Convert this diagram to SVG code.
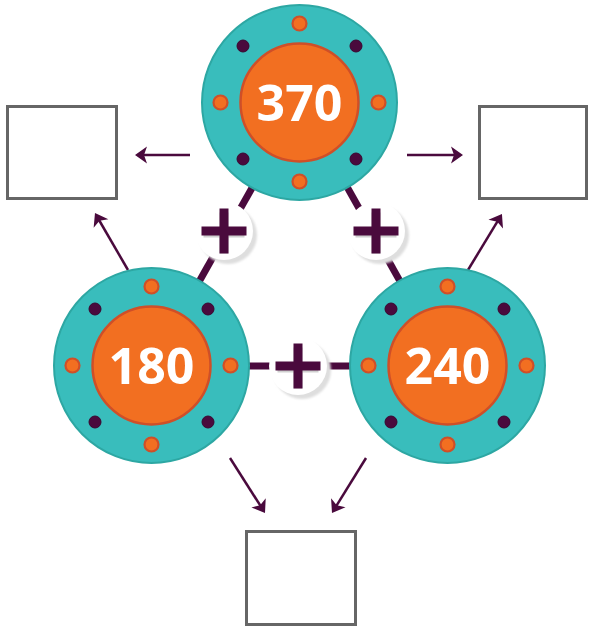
<svg xmlns="http://www.w3.org/2000/svg" width="589" height="628" viewBox="0 0 589 628">
<defs>
<style>
.ring{fill:#39bdbc;stroke:#2da7a3;stroke-width:2}
.core{fill:#f26f21;stroke:#cf4f28;stroke-width:2.5}
.od{fill:#f26f21;stroke:#cf4f28;stroke-width:2.2}
.pd{fill:#4a0a3d;stroke:#3a0630;stroke-width:1}
.num{font-family:"Open Sans","Noto Sans",sans-serif;font-weight:700;font-size:50px;fill:#fff;text-anchor:middle}
.box{fill:#fff;stroke:#666;stroke-width:3}
.link{stroke:#4a0a3d;stroke-width:7;fill:none}
.arr{stroke:#4a0a3d;stroke-width:2.5;fill:none;marker-end:url(#ah)}
.plus{fill:#4a0a3d}
.plush{fill:#cfcfcf}
</style>
<marker id="ah" markerUnits="userSpaceOnUse" viewBox="-6 -10 16 20" refX="0" refY="0" markerWidth="16" markerHeight="20" orient="auto">
<path d="M8,0 L-4,-8.5 L-1,0 L-4,8.5 Z" fill="#4a0a3d"/>
</marker>
<filter id="blur" x="-50%" y="-50%" width="200%" height="200%"><feGaussianBlur stdDeviation="1.2"/></filter>
<g id="disc">
<circle class="ring" cx="0" cy="0" r="97.5"/>
<circle class="core" cx="0" cy="0" r="59"/>
<circle class="od" cx="0" cy="-79" r="7"/>
<circle class="od" cx="0" cy="79" r="7"/>
<circle class="od" cx="-79" cy="0" r="7"/>
<circle class="od" cx="79" cy="0" r="7"/>
<circle class="pd" cx="-56.5" cy="-56.5" r="6"/>
<circle class="pd" cx="56.5" cy="-56.5" r="6"/>
<circle class="pd" cx="-56.5" cy="56.5" r="6"/>
<circle class="pd" cx="56.5" cy="56.5" r="6"/>
</g>
<g id="plusbadge">
<circle cx="4" cy="4" r="29" fill="#dedede" filter="url(#blur)"/>
<circle cx="0" cy="0" r="29" fill="#fff"/>
<path class="plush" d="M-20.5,-2.5h16v-16h9v16h16v9h-16v16h-9v-16h-16z"/>
<path class="plus" d="M-22.5,-4.5h18v-18h9v18h18v9h-18v18h-9v-18h-18z"/>
</g>
</defs>
<g id="connectors">
<line class="link" x1="300" y1="103" x2="152" y2="365"/>
<line class="link" x1="300" y1="103" x2="447" y2="365"/>
<line class="link" x1="152" y1="366" x2="447" y2="366"/>
<line class="arr" x1="190" y1="155" x2="143" y2="155"/>
<line class="arr" x1="407" y1="155" x2="455" y2="155"/>
<line class="arr" x1="128" y1="270" x2="99" y2="220"/>
<line class="arr" x1="468" y1="270" x2="497.8" y2="220.8"/>
<line class="arr" x1="230" y1="458" x2="260.7" y2="506.2"/>
<line class="arr" x1="366" y1="458" x2="336.2" y2="506.2"/>
<use href="#plusbadge" x="224" y="231"/>
<use href="#plusbadge" x="376" y="231"/>
<use href="#plusbadge" x="298" y="366"/>
</g>
<g id="node-370">
<use href="#disc" x="299.5" y="102.5"/>
<text class="num" x="299.5" y="121">370</text>
</g>
<g id="node-180">
<use href="#disc" x="151.5" y="365.5"/>
<text class="num" x="151.5" y="384">180</text>
</g>
<g id="node-240">
<use href="#disc" x="447.5" y="365.5"/>
<text class="num" x="447.5" y="384">240</text>
</g>
<g id="box-left"><rect class="box" x="7.5" y="106.5" width="109" height="92"/></g>
<g id="box-right"><rect class="box" x="479.5" y="106.5" width="107" height="92"/></g>
<g id="box-bottom"><rect class="box" x="246.5" y="531.5" width="109" height="93"/></g>
</svg>
